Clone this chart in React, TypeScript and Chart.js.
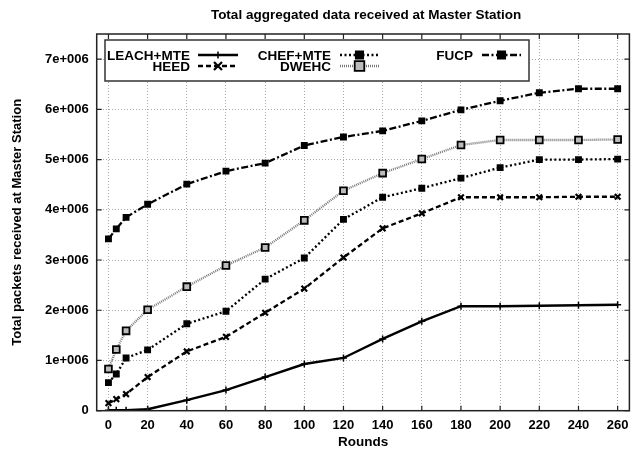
import React, { useEffect, useRef } from 'react';
import { Chart, registerables } from 'chart.js';

Chart.register(...registerables);

const W = 636;
const H = 457;

const rounds = [0, 4, 9, 20, 40, 60, 80, 100, 120, 140, 160, 180, 200, 220, 240, 260];
const xTicks = [0, 20, 40, 60, 80, 100, 120, 140, 160, 180, 200, 220, 240, 260];
const yTicks = [0, 1e6, 2e6, 3e6, 4e6, 5e6, 6e6, 7e6];

const leachMte = [0.01, 0.01, 0.01, 0.03, 0.21, 0.41, 0.67, 0.93, 1.05, 1.43, 1.78, 2.08, 2.08, 2.09, 2.10, 2.11];
const heed = [0.15, 0.23, 0.33, 0.67, 1.18, 1.47, 1.95, 2.43, 3.05, 3.63, 3.93, 4.25, 4.25, 4.25, 4.26, 4.26];
const chefMte = [0.56, 0.73, 1.05, 1.21, 1.73, 1.98, 2.62, 3.04, 3.81, 4.25, 4.43, 4.63, 4.84, 5.0, 5.0, 5.01];
const dwehc = [0.83, 1.22, 1.59, 2.01, 2.47, 2.89, 3.25, 3.79, 4.38, 4.73, 5.01, 5.29, 5.39, 5.39, 5.39, 5.4];
const fucp = [3.42, 3.62, 3.85, 4.11, 4.51, 4.77, 4.93, 5.28, 5.45, 5.57, 5.77, 5.99, 6.17, 6.33, 6.41, 6.41];

const FONT = '"Liberation Sans", Arial, Helvetica, sans-serif';

const toPts = (vals: number[]) => vals.map((v, i) => ({ x: rounds[i], y: v * 1e6 }));

function drawMarker(ctx: CanvasRenderingContext2D, style: string, x: number, y: number, r: number, fill: string, stroke: string, lw: number) {
  ctx.save();
  ctx.setLineDash([]);
  ctx.lineWidth = lw;
  ctx.strokeStyle = stroke;
  ctx.fillStyle = fill;
  ctx.beginPath();
  if (style === 'cross') {
    ctx.moveTo(x - r, y); ctx.lineTo(x + r, y);
    ctx.moveTo(x, y - r); ctx.lineTo(x, y + r);
    ctx.stroke();
  } else if (style === 'crossRot') {
    ctx.moveTo(x - r, y - r); ctx.lineTo(x + r, y + r);
    ctx.moveTo(x + r, y - r); ctx.lineTo(x - r, y + r);
    ctx.stroke();
  } else {
    ctx.rect(x - r, y - r, 2 * r, 2 * r);
    ctx.fill();
    ctx.stroke();
  }
  ctx.restore();
}

const legendItems = [
  { label: 'LEACH+MTE', ds: 0, textRight: 190, y: 55, sx1: 198, sx2: 238 },
  { label: 'HEED', ds: 1, textRight: 190, y: 66, sx1: 198, sx2: 238 },
  { label: 'CHEF+MTE', ds: 2, textRight: 331, y: 55, sx1: 340, sx2: 379 },
  { label: 'DWEHC', ds: 3, textRight: 331, y: 66, sx1: 340, sx2: 379 },
  { label: 'FUCP', ds: 4, textRight: 473, y: 55, sx1: 482, sx2: 521 },
];

const framePlugin = {
  id: 'frame',
  afterDraw(chart: any) {
    const { ctx, chartArea: a } = chart;
    const xs = chart.scales.x;
    const ys = chart.scales.y;
    ctx.save();
    ctx.setLineDash([]);
    ctx.strokeStyle = '#222';
    ctx.lineWidth = 1.5;
    ctx.strokeRect(a.left, a.top, a.right - a.left, a.bottom - a.top);
    ctx.lineWidth = 1.2;
    ctx.beginPath();
    xTicks.forEach((t) => {
      const px = xs.getPixelForValue(t);
      ctx.moveTo(px, a.bottom); ctx.lineTo(px, a.bottom - 5);
      ctx.moveTo(px, a.top); ctx.lineTo(px, a.top + 5);
    });
    yTicks.forEach((t) => {
      const py = ys.getPixelForValue(t);
      ctx.moveTo(a.left, py); ctx.lineTo(a.left + 5, py);
      ctx.moveTo(a.right, py); ctx.lineTo(a.right - 5, py);
    });
    ctx.stroke();

    const bx = 105, by = 40, bw = 424, bh = 41;
    ctx.fillStyle = '#fff';
    ctx.fillRect(bx, by, bw, bh);
    ctx.strokeStyle = '#333';
    ctx.lineWidth = 1.5;
    ctx.strokeRect(bx, by, bw, bh);
    ctx.font = `bold 13.5px ${FONT}`;
    ctx.textAlign = 'right';
    ctx.textBaseline = 'middle';
    legendItems.forEach((it) => {
      const ds = chart.data.datasets[it.ds];
      ctx.fillStyle = '#000';
      ctx.fillText(it.label, it.textRight, it.y + 1);
      ctx.save();
      ctx.strokeStyle = ds.borderColor;
      ctx.lineWidth = ds.borderWidth;
      ctx.setLineDash(ds.borderDash || []);
      ctx.beginPath();
      ctx.moveTo(it.sx1, it.y);
      ctx.lineTo(it.sx2, it.y);
      ctx.stroke();
      ctx.restore();
      drawMarker(ctx, ds.pointStyle, (it.sx1 + it.sx2) / 2, it.y, ds.pointRadius, ds.pointBackgroundColor, ds.pointBorderColor, ds.pointBorderWidth);
    });

    ctx.fillStyle = '#000';
    ctx.textAlign = 'center';
    ctx.font = `bold 13.5px ${FONT}`;
    ctx.fillText('Total aggregated data received at Master Station', (a.left + a.right) / 2 + 3, 15);
    ctx.restore();
  },
};

export default function App() {
  const ref = useRef<HTMLCanvasElement>(null);
  useEffect(() => {
    const mk = (label: string, vals: number[], o: any) => ({
      label,
      data: toPts(vals),
      borderColor: '#000',
      borderWidth: 2.3,
      pointBorderColor: '#000',
      pointBackgroundColor: '#000',
      pointBorderWidth: 1.5,
      tension: 0,
      fill: false,
      ...o,
    });
    const chart = new Chart(ref.current as HTMLCanvasElement, {
      type: 'line',
      data: {
        datasets: [
          mk('LEACH+MTE', leachMte, { borderDash: [], pointStyle: 'cross', pointRadius: 3.5, borderWidth: 2.4 }),
          mk('HEED', heed, { borderDash: [5, 3], pointStyle: 'crossRot', pointRadius: 4, pointBorderWidth: 2.2 }),
          mk('CHEF+MTE', chefMte, { borderDash: [2, 2.5], pointStyle: 'rect', pointRadius: 3.8 }),
          mk('DWEHC', dwehc, { borderDash: [1, 1], borderColor: '#777', pointStyle: 'rect', pointRadius: 4.8, pointBackgroundColor: '#bbb', pointBorderWidth: 1.8 }),
          mk('FUCP', fucp, { borderDash: [7, 2.5, 2, 2.5], pointStyle: 'rect', pointRadius: 3.8 }),
        ],
      },
      options: {
        responsive: false,
        animation: false,
        devicePixelRatio: 1,
        layout: { padding: { top: 34, right: 4.5, left: 0, bottom: 0 } },
        plugins: {
          legend: { display: false },
          title: { display: false },
          tooltip: { enabled: false },
        },
        scales: {
          x: {
            type: 'linear',
            min: -6,
            max: 266,
            afterBuildTicks: (s: any) => { s.ticks = xTicks.map((v) => ({ value: v })); },
            afterFit: (s: any) => { s.height = 46.3; },
            grid: { color: '#aaa', lineWidth: 1, drawTicks: false },
            border: { display: false, dash: [1, 2] },
            ticks: {
              color: '#000',
              font: { family: FONT, size: 13, weight: 'bold' },
              padding: 7,
              maxRotation: 0,
              autoSkip: false,
            },
            title: {
              display: true,
              text: 'Rounds',
              color: '#000',
              font: { family: FONT, size: 13.5, weight: 'bold' },
              padding: { top: 0, bottom: 6.5 },
            },
          },
          y: {
            type: 'linear',
            min: 0,
            max: 7.5e6,
            afterBuildTicks: (s: any) => { s.ticks = yTicks.map((v) => ({ value: v })); },
            afterFit: (s: any) => { s.width = 96.7; },
            grid: { color: '#aaa', lineWidth: 1, drawTicks: false },
            border: { display: false, dash: [1, 2] },
            ticks: {
              color: '#000',
              font: { family: FONT, size: 13, weight: 'bold' },
              padding: 8,
              callback: (v: any) => (v === 0 ? '0' : `${v / 1e6}e+006`),
            },
            title: {
              display: true,
              text: 'Total packets received at Master Station',
              color: '#000',
              font: { family: FONT, size: 13, weight: 'bold' },
              padding: { top: 9.5, bottom: 0 },
            },
          },
        },
      },
      plugins: [framePlugin],
    } as any);
    return () => chart.destroy();
  }, []);
  return (
    <div style={{ position: 'absolute', left: 0, top: 0, width: W, height: H, background: '#fff' }}>
      <canvas ref={ref} width={W} height={H} style={{ display: 'block' }} />
    </div>
  );
}
